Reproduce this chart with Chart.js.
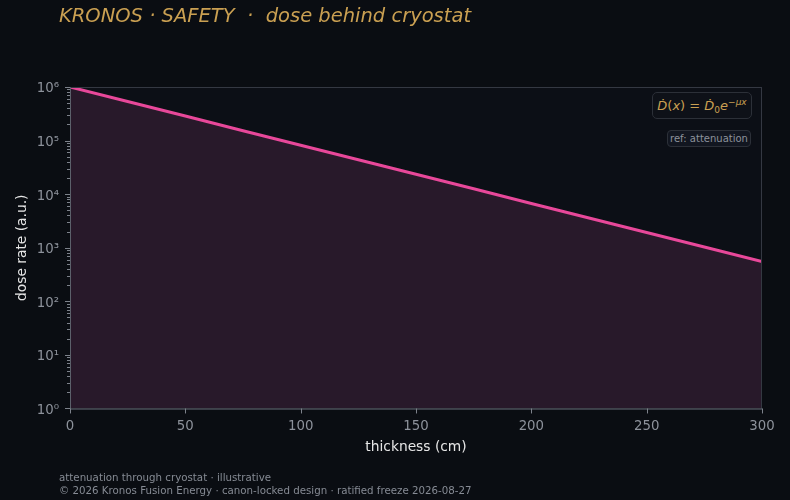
<!DOCTYPE html>
<html>
<head>
<meta charset="utf-8">
<script src="https://cdn.jsdelivr.net/npm/chart.js@4"></script>
<style>
  html, body { margin:0; padding:0; background:#0a0d12; }
  #wrap { position:relative; width:790px; height:500px; background:#0a0d12; font-family:"DejaVu Sans", sans-serif; overflow:hidden; }
  #c { position:absolute; left:0; top:0; width:790px; height:500px; }
  .title { position:absolute; left:59px; top:4px; color:#caa052; font-size:19.5px; font-style:italic; white-space:pre; }
  .foot { position:absolute; left:59px; color:#868b94; font-size:10.25px; white-space:pre; }
  .formula { position:absolute; left:652px; top:92px; width:100px; height:27px; box-sizing:border-box; border:1px solid #2c3038; border-radius:5px; background:#0e1118; color:#caa052; font-size:13px; line-height:25px; text-align:center; white-space:nowrap; }
  .formula sup { font-size:9px; vertical-align:5px; line-height:0; }
  .formula sub { font-size:9px; vertical-align:-3px; line-height:0; }
  .ref { position:absolute; left:667px; top:130px; width:84px; height:17px; box-sizing:border-box; border:1px solid #2c3038; border-radius:4px; background:#121620; color:#8d929b; font-size:10px; line-height:15px; text-align:center; white-space:nowrap; }
</style>
</head>
<body>
<div id="wrap">
  <canvas id="c" width="790" height="500"></canvas>
  <div class="title">KRONOS · SAFETY  ·  dose behind cryostat</div>
  <div class="formula"><i>Ḋ</i>(<i>x</i>) = <i>Ḋ</i><sub>0</sub><i>e</i><sup>−<i>μx</i></sup></div>
  <div class="ref">ref: attenuation</div>
  <div class="foot" style="top:471px">attenuation through cryostat · illustrative</div>
  <div class="foot" style="top:484px">© 2026 Kronos Fusion Energy · canon-locked design · ratified freeze 2026-08-27</div>
</div>
<script>
const thickness = [0, 25, 50, 75, 100, 125, 150, 175, 200, 225, 250, 275, 300];
const doseRate = [1000000, 535000, 287000, 153000, 82000, 44000, 23500, 12600, 6700, 3600, 1930, 1030, 550];
const xTicks = [0, 50, 100, 150, 200, 250, 300];
const yDecades = [1, 10, 100, 1000, 10000, 100000, 1000000];
const supDigits = ['⁰','¹','²','³','⁴','⁵','⁶','⁷','⁸','⁹'];

const bgPlugin = {
  id: 'bg',
  beforeDraw(chart) {
    const {ctx, chartArea: a} = chart;
    ctx.save();
    ctx.fillStyle = '#0c0f16';
    ctx.fillRect(a.left, a.top, a.right - a.left, a.bottom - a.top);
    ctx.restore();
  },
  afterDraw(chart) {
    const {ctx, chartArea: a} = chart;
    const y = chart.scales.y;
    ctx.save();
    ctx.strokeStyle = '#343842';
    ctx.lineWidth = 1;
    ctx.strokeRect(a.left + 0.5, a.top + 0.5, a.right - a.left - 1, a.bottom - a.top);
    ctx.strokeStyle = '#5b606a';
    ctx.beginPath();
    ctx.moveTo(a.left + 0.5, a.top);
    ctx.lineTo(a.left + 0.5, a.bottom + 0.5);
    ctx.lineTo(a.right, a.bottom + 0.5);
    ctx.stroke();
    ctx.strokeStyle = '#7d828b';
    ctx.beginPath();
    for (let d = 0; d < yDecades.length; d++) {
      const base = yDecades[d];
      const py = Math.round(y.getPixelForValue(base)) + 0.5;
      ctx.moveTo(a.left - 5, py); ctx.lineTo(a.left, py);
      if (d < yDecades.length - 1) {
        for (let m = 2; m <= 9; m++) {
          const pm = Math.round(y.getPixelForValue(base * m)) + 0.5;
          ctx.moveTo(a.left - 3, pm); ctx.lineTo(a.left, pm);
        }
      }
    }
    const x = chart.scales.x;
    for (const v of xTicks) {
      const px = Math.round(x.getPixelForValue(v)) + 0.5;
      ctx.moveTo(px, a.bottom); ctx.lineTo(px, a.bottom + 5);
    }
    ctx.stroke();
    ctx.restore();
  }
};

new Chart(document.getElementById('c'), {
  type: 'line',
  data: {
    labels: thickness,
    datasets: [{
      data: thickness.map((t, i) => ({x: t, y: doseRate[i]})),
      borderColor: '#e8489a',
      borderWidth: 3,
      backgroundColor: '#28192a',
      fill: 'start',
      pointRadius: 0,
      tension: 0
    }]
  },
  options: {
    responsive: false,
    animation: false,
    devicePixelRatio: 1,
    layout: { padding: { top: 87, right: 28, left: 14, bottom: 44 } },
    plugins: { legend: { display: false }, tooltip: { enabled: false } },
    scales: {
      x: {
        type: 'linear', min: 0, max: 300,
        afterBuildTicks(s) { s.ticks = xTicks.map(v => ({value: v})); },
        grid: { display: true, drawOnChartArea: false, drawTicks: true, tickLength: 5, color: 'transparent' },
        border: { display: false },
        ticks: { color: '#8d929b', font: { family: 'DejaVu Sans', size: 13.3 }, padding: 5, maxRotation: 0, autoSkip: false },
        title: { display: true, text: 'thickness (cm)', color: '#e6e6e6', font: { family: 'DejaVu Sans', size: 13.8 }, padding: { top: 0, bottom: 0 } }
      },
      y: {
        type: 'logarithmic', min: 1, max: 1000000,
        afterBuildTicks(s) { s.ticks = yDecades.map(v => ({value: v, major: true})); },
        afterFit(s) { s.width = 56; },
        grid: { display: true, drawOnChartArea: false, drawTicks: true, tickLength: 5, color: 'transparent' },
        border: { display: false },
        ticks: {
          color: '#8d929b', font: { family: 'DejaVu Sans', size: 13.3 }, padding: 6, autoSkip: false, labelOffset: 2,
          callback(v) { const e = Math.round(Math.log10(v)); return '10' + supDigits[e]; }
        },
        title: { display: true, text: 'dose rate (a.u.)', color: '#e6e6e6', font: { family: 'DejaVu Sans', size: 13.8 }, padding: { top: 0, bottom: 4 } }
      }
    }
  },
  plugins: [bgPlugin]
});
</script>
</body>
</html>
